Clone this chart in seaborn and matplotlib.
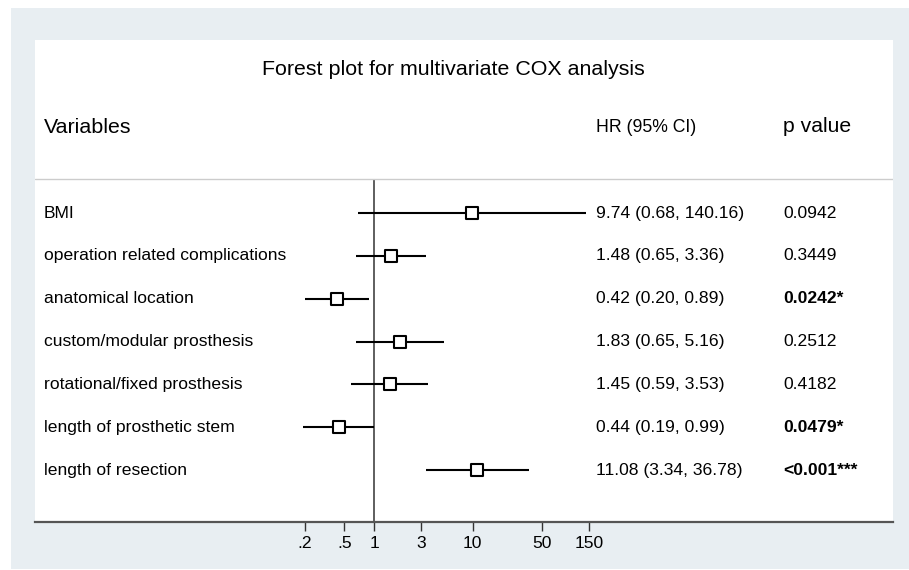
import matplotlib
matplotlib.use('Agg')
import matplotlib.pyplot as plt
from matplotlib.patches import Rectangle
import numpy as np
import pandas as pd
import seaborn as sns

# Data
variables = ['BMI', 'operation related complications', 'anatomical location',
             'custom/modular prosthesis', 'rotational/fixed prosthesis',
             'length of prosthetic stem', 'length of resection']
hr = [9.74, 1.48, 0.42, 1.83, 1.45, 0.44, 11.08]
ci_low = [0.68, 0.65, 0.20, 0.65, 0.59, 0.19, 3.34]
ci_high = [140.16, 3.36, 0.89, 5.16, 3.53, 0.99, 36.78]
hr_text = ['9.74 (0.68, 140.16)', '1.48 (0.65, 3.36)', '0.42 (0.20, 0.89)',
           '1.83 (0.65, 5.16)', '1.45 (0.59, 3.53)', '0.44 (0.19, 0.99)',
           '11.08 (3.34, 36.78)']
p_text = ['0.0942', '0.3449', '0.0242*', '0.2512', '0.4182', '0.0479*', '<0.001***']
p_bold = [False, False, True, False, False, True, True]
tick_vals = [0.2, 0.5, 1, 3, 10, 50, 150]
tick_labels = ['.2', '.5', '1', '3', '10', '50', '150']

df = pd.DataFrame({'var': variables, 'hr': hr, 'lo': ci_low, 'hi': ci_high,
                   'row': np.arange(1, len(variables) + 1)})

sns.set_theme(style='white')
plt.rcParams['font.family'] = ['Liberation Sans', 'DejaVu Sans']
plt.rcParams['text.color'] = 'black'

W, H = 909, 570
fig = plt.figure(figsize=(W / 100, H / 100), dpi=100, facecolor='white')
# light outer frame (drawn behind the axes)
bg = Rectangle((11 / W, 1 / H), 1 - 11 / W, (569 - 8) / H,
               transform=fig.transFigure, facecolor='#e8eef2',
               edgecolor='none', zorder=-5)
fig.add_artist(bg)

# white panel: x 35..893, y 40..522 (pixels)
ax = fig.add_axes([35 / W, (H - 522) / H, 858 / W, 482 / H])
ax.set_zorder(1)
ax.set_facecolor('white')
ax.set_xscale('log')
ax.set_xlim(10 ** -3.435, 10 ** 5.258)
ax.set_ylim(8.214, -3.039)

# CI lines and squares
ax.hlines(df['row'], df['lo'], df['hi'], color='black', lw=1.5, zorder=2)
sns.scatterplot(data=df, x='hr', y='row', marker='s', s=75, color='white',
                edgecolor='black', linewidth=1.5, zorder=3, ax=ax, legend=False)

# reference line and header separator
sep_y = 0.206
ax.vlines(1, sep_y, 8.214, color='#333333', lw=1.1, zorder=1)
ax.axhline(sep_y, color='#cccccc', lw=1, zorder=1)

tr = ax.get_yaxis_transform()
x_lab, x_hr, x_p = 0.0105, 0.6538, 0.8718
for i, row in df.iterrows():
    ax.text(x_lab, row['row'], row['var'], transform=tr, fontsize=12.6,
            va='center', ha='left', color='black')
    ax.text(x_hr, row['row'], hr_text[i], transform=tr, fontsize=12.6,
            va='center', ha='left', color='black')
    ax.text(x_p, row['row'], p_text[i], transform=tr, fontsize=12.6,
            va='center', ha='left', color='black',
            fontweight='bold' if p_bold[i] else 'normal')

# headers and title
ax.text(x_lab, -1.0, 'Variables', transform=tr, fontsize=15.4, va='center',
        ha='left', color='black')
ax.text(x_hr, -1.0, 'HR (95% CI)', transform=tr, fontsize=12.7, va='center',
        ha='left', color='black')
ax.text(x_p, -1.03, 'p value', transform=tr, fontsize=15.2, va='center',
        ha='left', color='black')
ax.text(0.4878, -2.34, 'Forest plot for multivariate COX analysis', transform=tr,
        fontsize=15.4, va='center', ha='center', color='black')

# axes styling
for s in ['top', 'right', 'left']:
    ax.spines[s].set_visible(False)
ax.spines['bottom'].set_color('#555555')
ax.spines['bottom'].set_linewidth(1.6)
ax.set_yticks([])
ax.set_xticks(tick_vals)
ax.set_xticklabels(tick_labels)
ax.xaxis.set_minor_locator(matplotlib.ticker.NullLocator())
ax.tick_params(axis='x', bottom=True, direction='out', length=6.5, width=1,
               color='#333333', labelsize=12.6, pad=3.5, labelcolor='black')
ax.set_xlabel('')
ax.set_ylabel('')

fig.savefig('out.png', dpi=100, facecolor=fig.get_facecolor())
